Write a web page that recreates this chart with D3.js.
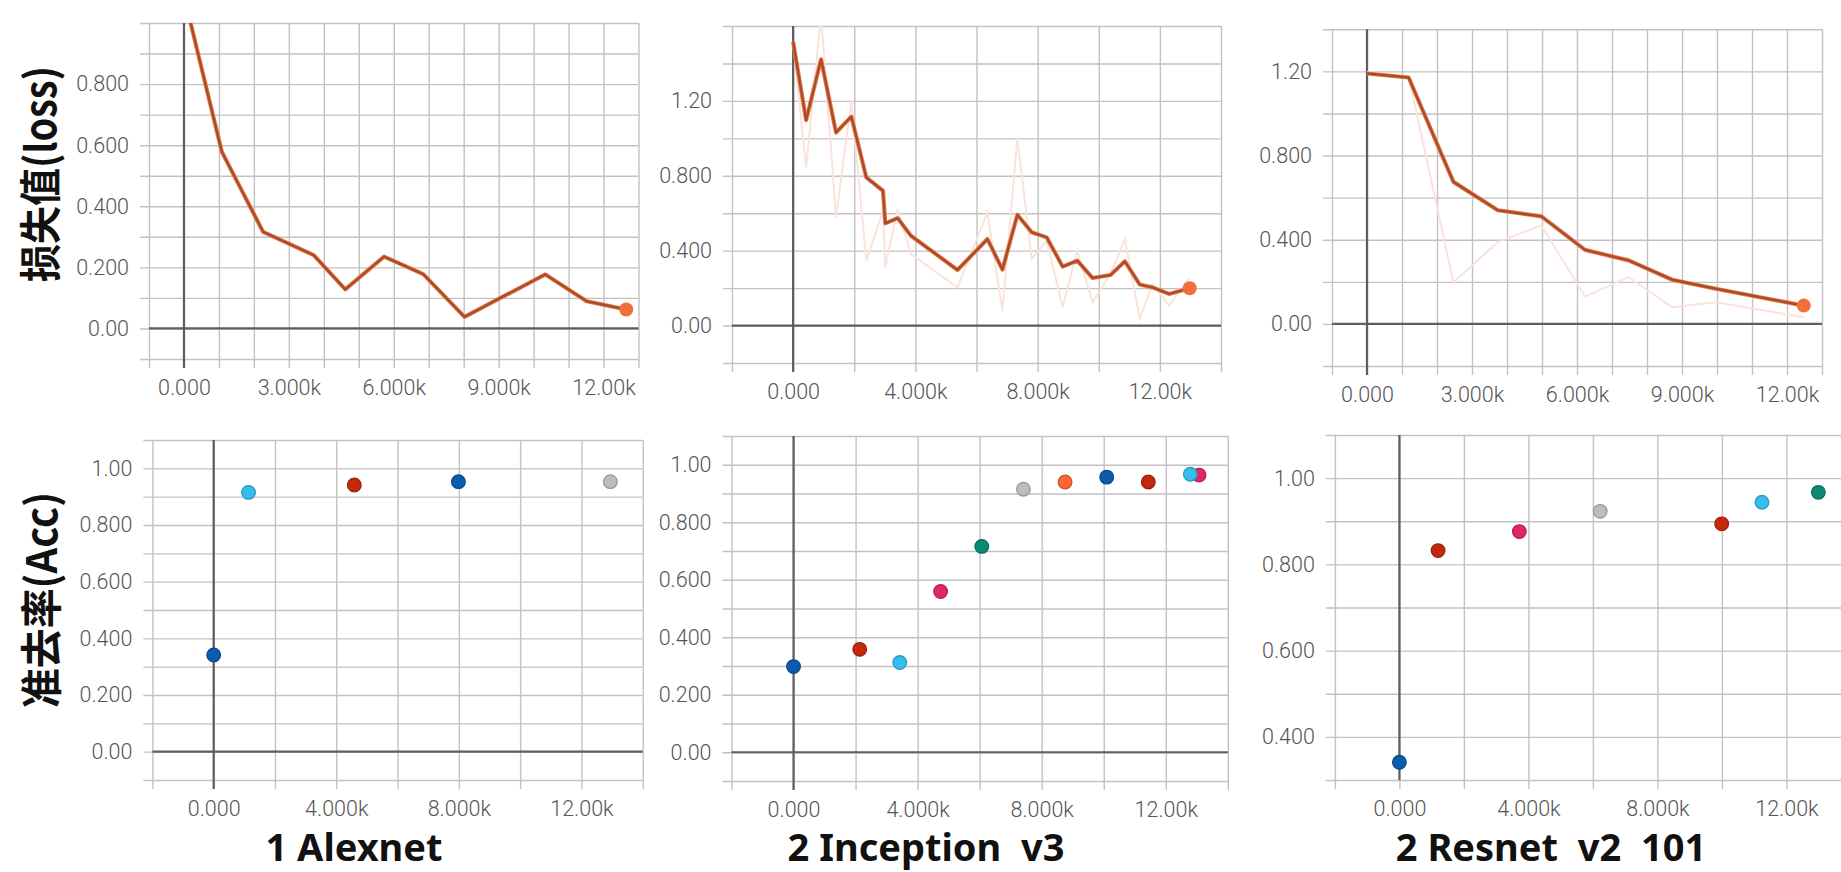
<!DOCTYPE html>
<html><head><meta charset="utf-8">
<script src="https://cdn.jsdelivr.net/npm/d3@7"></script>
<style>
html,body{margin:0;padding:0;background:#fff;}
svg{display:block;}
</style></head><body>
<svg id="c" width="1841" height="872"></svg>
<script>
// ---------- DATA ----------
// Loss (smoothed + raw) : steps and values
const lossSteps1 = [0, 1084, 2265, 3711, 4614, 5723, 6843, 8024, 10337, 11518, 12650];
const lossSmooth1 = [1.09, 0.578, 0.316, 0.240, 0.128, 0.235, 0.178, 0.038, 0.177, 0.089, 0.062];

const lossSteps2 = [0, 425, 914, 1404, 1905, 2395, 2940, 3016, 3418, 3854, 5378, 6358, 6848, 7338, 7806, 8296, 8818, 9297, 9798, 10386, 10854, 11344, 11758, 12302, 12977];
const lossSmooth2 = [1.516, 1.097, 1.422, 1.031, 1.116, 0.791, 0.720, 0.546, 0.574, 0.480, 0.297, 0.462, 0.299, 0.592, 0.498, 0.471, 0.315, 0.347, 0.254, 0.270, 0.343, 0.219, 0.204, 0.169, 0.199];
const lossRaw2 = [1.516, 0.844, 1.66, 0.578, 1.20, 0.347, 0.613, 0.311, 0.622, 0.382, 0.204, 0.604, 0.080, 1.004, 0.356, 0.453, 0.098, 0.400, 0.124, 0.276, 0.462, 0.036, 0.222, 0.107, 0.258];

const lossSteps3 = [0, 1189, 2469, 3737, 4983, 6229, 7474, 8720, 9966, 12480];
const lossSmooth3 = [1.190, 1.171, 0.675, 0.540, 0.511, 0.352, 0.302, 0.210, 0.167, 0.087];
const lossRaw3 = [1.198, 1.175, 0.198, 0.389, 0.468, 0.130, 0.222, 0.079, 0.103, 0.032];

// Accuracy points
const accSteps1 = [0, 1137, 4589, 7986, 12945];
const accVals1 = [0.341, 0.915, 0.941, 0.953, 0.953];
const accRuns1 = ["blue", "sky", "red", "blue", "gray"];

const accSteps2 = [0, 2134, 3425, 4741, 6070, 7412, 8754, 10096, 11438, 12792, 13073];
const accVals2 = [0.298, 0.358, 0.312, 0.559, 0.716, 0.915, 0.940, 0.957, 0.940, 0.967, 0.964];
const accRuns2 = ["blue", "red", "sky", "pink", "teal", "gray", "orange", "blue", "red", "sky", "pink"];

const accSteps3 = [0, 1199, 3719, 6226, 9994, 11242, 12991];
const accVals3 = [0.341, 0.832, 0.876, 0.923, 0.894, 0.944, 0.967];
const accRuns3 = ["blue", "red", "pink", "gray", "red", "sky", "teal"];

// Tick labels
const xTicks3k = [0, 3000, 6000, 9000, 12000];
const xLabels3k = ["0.000", "3.000k", "6.000k", "9.000k", "12.00k"];
const xTicks4k = [0, 4000, 8000, 12000];
const xLabels4k = ["0.000", "4.000k", "8.000k", "12.00k"];
const yTicksA = [0, 0.2, 0.4, 0.6, 0.8];
const yLabelsA = ["0.00", "0.200", "0.400", "0.600", "0.800"];
const yTicksB = [0, 0.4, 0.8, 1.2];
const yLabelsB = ["0.00", "0.400", "0.800", "1.20"];
const yTicksC = [0, 0.2, 0.4, 0.6, 0.8, 1.0];
const yLabelsC = ["0.00", "0.200", "0.400", "0.600", "0.800", "1.00"];
const yTicksD = [0.4, 0.6, 0.8, 1.0];
const yLabelsD = ["0.400", "0.600", "0.800", "1.00"];

const titles = ["1 Alexnet", "2 Inception  v3", "2 Resnet  v2  101"];
const yTitles = ["损失值(loss)", "准去率(Acc)"];

// ---------- STYLE ----------
const runColor = {blue:"#0b5cad", red:"#c4290e", sky:"#35bdee", pink:"#e2266a", teal:"#0a8a73", gray:"#bdbdbd", orange:"#ff6633"};
const svg = d3.select("#c");
const TICK = 9;

function gridVals(lo, hi, step){
  const n = Math.round((hi - lo) / step);
  return d3.range(n + 1).map(i => +(lo + i * step).toFixed(6));
}

function panel(cfg){
  const x = d3.scaleLinear().domain(cfg.xd).range(cfg.xr);
  const y = d3.scaleLinear().domain(cfg.yd).range(cfg.yr);
  const W = cfg.xr[1] - cfg.xr[0], H = cfg.yr[0] - cfg.yr[1];
  const g = svg.append("g");

  const hg = g.append("g").attr("transform", `translate(${cfg.xr[0] - TICK},0)`)
    .call(d3.axisRight(y).tickValues(gridVals(cfg.yd[0], cfg.yd[1], cfg.ys)).tickSize(W + TICK).tickFormat(""));
  const vg = g.append("g").attr("transform", `translate(0,${cfg.yr[0] + TICK})`)
    .call(d3.axisTop(x).tickValues(gridVals(cfg.xd[0], cfg.xd[1], cfg.xs)).tickSize(H + TICK).tickFormat(""));
  [hg, vg].forEach(a => {
    a.select(".domain").remove();
    a.selectAll("line").attr("stroke", "#c2c2c2").attr("stroke-width", 1.4);
  });

  if (cfg.yd[0] < 0) {
    g.append("line").attr("x1", cfg.xr[0]).attr("x2", cfg.xr[1])
      .attr("y1", y(0)).attr("y2", y(0)).attr("stroke", "#5e5e5e").attr("stroke-width", 2.2);
  }
  g.append("line").attr("x1", x(0)).attr("x2", x(0))
    .attr("y1", cfg.yr[1]).attr("y2", cfg.yr[0] + (cfg.yd[0] < 0 ? TICK : 0))
    .attr("stroke", "#5e5e5e").attr("stroke-width", 2.2);

  const yl = g.append("g").attr("transform", `translate(${cfg.xr[0]},0)`)
    .call(d3.axisLeft(y).tickValues(cfg.yt).tickFormat((d, i) => cfg.yl[i]).tickSize(0).tickPadding(20));
  const xl = g.append("g").attr("transform", `translate(0,${cfg.yr[0]})`)
    .call(d3.axisBottom(x).tickValues(cfg.xt).tickFormat((d, i) => cfg.xl[i]).tickSize(0).tickPadding(21));
  [yl, xl].forEach(a => {
    a.select(".domain").remove();
    a.selectAll("text").attr("font-family", "Roboto, 'Open Sans', sans-serif")
      .attr("font-weight", 300).attr("font-size", 21.5).attr("fill", "#555");
  });

  const id = "clip" + cfg.id;
  svg.append("clipPath").attr("id", id).append("rect")
    .attr("x", cfg.xr[0]).attr("y", cfg.yr[1]).attr("width", W).attr("height", H);
  const plot = g.append("g").attr("clip-path", `url(#${id})`);

  if (cfg.steps) {
    const line = d3.line().x(d => x(d[0])).y(d => y(d[1]));
    if (cfg.raw) {
      plot.append("path").datum(cfg.steps.map((s, i) => [s, cfg.raw[i]]))
        .attr("d", line).attr("fill", "none").attr("stroke", "#fae3da").attr("stroke-width", 2);
    }
    const sm = cfg.steps.map((s, i) => [s, cfg.smooth[i]]);
    plot.append("path").datum(sm).attr("d", line).attr("fill", "none")
      .attr("stroke", "#ec7d4b").attr("stroke-width", 4.2).attr("stroke-linejoin", "round");
    plot.append("path").datum(sm).attr("d", line).attr("fill", "none")
      .attr("stroke", "#a84c2c").attr("stroke-width", 2.4).attr("stroke-linejoin", "round");
    const last = sm[sm.length - 1];
    g.append("circle").attr("cx", x(last[0])).attr("cy", y(last[1])).attr("r", 7)
      .attr("fill", "#f0703c");
  }
  if (cfg.pts) {
    const pts = cfg.pts.map((s, i) => ({s, v: cfg.vals[i], c: runColor[cfg.runs[i]]})).reverse();
    g.selectAll("circle.pt").data(pts).enter().append("circle").attr("class", "pt")
      .attr("cx", d => x(d.s)).attr("cy", d => y(d.v)).attr("r", 6.8)
      .attr("fill", d => d.c).attr("stroke", d => d3.color(d.c).darker(0.6)).attr("stroke-width", 1.3);
  }
}

panel({id:1, xd:[-1000,13000], xr:[149,638.5], xs:1000, yd:[-0.1,1.0], yr:[359,23], ys:0.1,
  xt:xTicks3k, xl:xLabels3k, yt:yTicksA, yl:yLabelsA, steps:lossSteps1, smooth:lossSmooth1});
panel({id:2, xd:[-2000,14000], xr:[732,1221], xs:2000, yd:[-0.2,1.6], yr:[363,26], ys:0.2,
  xt:xTicks4k, xl:xLabels4k, yt:yTicksB, yl:yLabelsB, steps:lossSteps2, smooth:lossSmooth2, raw:lossRaw2});
panel({id:3, xd:[-1000,13000], xr:[1332,1822], xs:1000, yd:[-0.2,1.4], yr:[366,29.3], ys:0.2,
  xt:xTicks3k, xl:xLabels3k, yt:yTicksB, yl:yLabelsB, steps:lossSteps3, smooth:lossSmooth3, raw:lossRaw3});
panel({id:4, xd:[-2000,14000], xr:[152.4,642.7], xs:2000, yd:[-0.1,1.1], yr:[780,440], ys:0.1,
  xt:xTicks4k, xl:xLabels4k, yt:yTicksC, yl:yLabelsC, pts:accSteps1, vals:accVals1, runs:accRuns1});
panel({id:5, xd:[-2000,14000], xr:[731.5,1227.8], xs:2000, yd:[-0.1,1.1], yr:[781,436], ys:0.1,
  xt:xTicks4k, xl:xLabels4k, yt:yTicksC, yl:yLabelsC, pts:accSteps2, vals:accVals2, runs:accRuns2});
panel({id:6, xd:[-2000,14000], xr:[1334.9,1850.9], xs:2000, yd:[0.3,1.1], yr:[780,435], ys:0.1,
  xt:xTicks4k, xl:xLabels4k, yt:yTicksD, yl:yLabelsD, pts:accSteps3, vals:accVals3, runs:accRuns3});

const titleX = [354, 926, 1551];
titles.forEach((t, i) => {
  svg.append("text").attr("x", titleX[i]).attr("y", 861).attr("text-anchor", "middle")
    .attr("font-family", "'Noto Sans', 'Open Sans', sans-serif").attr("font-weight", 700)
    .attr("font-size", 38).attr("fill", "#111").style("white-space", "pre").text(t);
});
const yTitlePos = [[37, 174], [38, 600]];
yTitles.forEach((t, i) => {
  svg.append("text").attr("transform", `translate(${yTitlePos[i][0]},${yTitlePos[i][1]}) rotate(-90)`)
    .attr("text-anchor", "middle").attr("dominant-baseline", "central")
    .attr("font-family", "'Noto Sans CJK SC', sans-serif").attr("font-weight", 700)
    .attr("font-size", 42).attr("fill", "#111")
    .attr("textLength", 216).attr("lengthAdjust", "spacingAndGlyphs").text(t);
});
</script>
</body></html>
